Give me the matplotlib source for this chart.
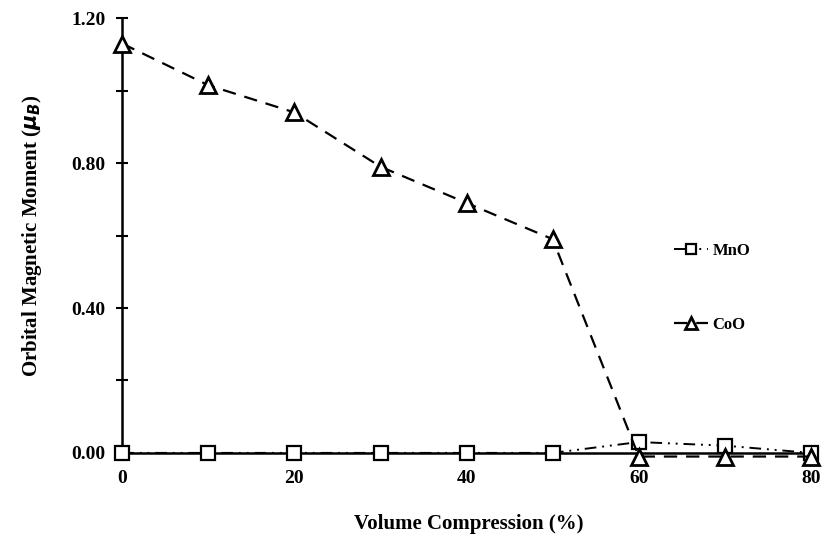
import matplotlib
matplotlib.use('Agg')
import matplotlib.pyplot as plt
from matplotlib.ticker import MultipleLocator, FormatStrFormatter

# data
compression = [0, 10, 20, 30, 40, 50, 60, 70, 80]
mno = [0.0, 0.0, 0.0, 0.0, 0.0, 0.0, 0.03, 0.02, 0.0]
coo = [1.13, 1.015, 0.94, 0.79, 0.69, 0.59, -0.01, -0.01, -0.01]
xticks = [0, 20, 40, 60, 80]
yticks = [0.0, 0.4, 0.8, 1.2]

plt.rcParams['font.family'] = ['Liberation Serif', 'DejaVu Serif']
plt.rcParams['font.weight'] = 'bold'

fig = plt.figure(figsize=(8.26, 5.53), dpi=100)
ax = fig.add_axes([0.148, 0.181, 0.839, 0.786])

ax.plot(compression, mno, color='black', lw=1.4, ls=(0, (6, 3, 1, 3, 1, 3)),
        marker='s', ms=10, mfc='white', mec='black', mew=1.6,
        label='MnO', clip_on=False, zorder=3)
ax.plot(compression, coo, color='black', lw=1.6, ls=(0, (6, 4)),
        marker='^', ms=12, mfc='white', mec='black', mew=2.0,
        label='CoO', clip_on=False, zorder=4)

ax.set_xlim(0, 80.5)
ax.set_ylim(0, 1.2)
ax.set_xticks(xticks)
ax.set_yticks(yticks)
ax.yaxis.set_minor_locator(MultipleLocator(0.2))
ax.yaxis.set_major_formatter(FormatStrFormatter('%.2f'))

for s in ['top', 'right']:
    ax.spines[s].set_visible(False)
for s in ['left', 'bottom']:
    ax.spines[s].set_linewidth(1.8)

ax.tick_params(axis='y', which='both', direction='inout', length=8, width=1.5,
               labelsize=14, pad=8)
ax.tick_params(axis='x', direction='in', length=0, labelsize=14, pad=12)

ax.set_xlabel('Volume Compression (%)', fontsize=15, fontweight='bold', labelpad=20)
ax.set_ylabel(r'Orbital Magnetic Moment ($\mu_B$)', fontsize=15,
              fontweight='bold', labelpad=20)

leg = ax.legend(loc='center left', bbox_to_anchor=(0.775, 0.38), frameon=False,
                fontsize=12, handlelength=2.0, handletextpad=0.3,
                labelspacing=3.5, markerscale=0.75)

fig.savefig('out.png', dpi=100)
